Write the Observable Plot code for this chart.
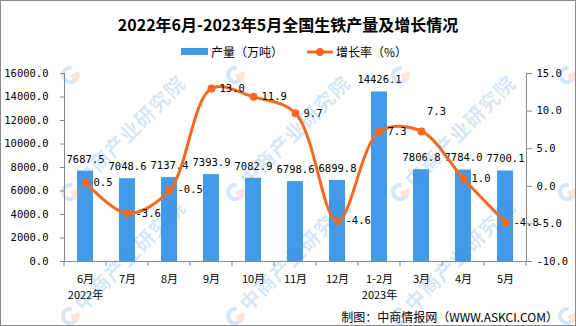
<!DOCTYPE html>
<html><head><meta charset="utf-8">
<script src="https://cdn.jsdelivr.net/npm/d3@7"></script>
<script src="https://cdn.jsdelivr.net/npm/@observablehq/plot@0.6"></script>
<style>
body{margin:0;background:#fff;}
#wrap{position:relative;width:576px;height:326px;overflow:hidden;background:#fff;font-family:"Noto Sans CJK SC",sans-serif;color:#000;}
#chart{position:absolute;left:0;top:0;}
#title{position:absolute;left:0;top:12px;width:576px;text-align:center;font-size:16px;font-weight:bold;line-height:24px;}
.lg{position:absolute;font-size:12px;line-height:14px;top:45px;}
#caption{position:absolute;right:18px;top:308px;font-size:12px;line-height:18px;}
#wm{position:absolute;left:0;top:0;pointer-events:none;}
#border{position:absolute;left:0;top:0;width:574px;height:324px;border:1px solid #8a8a8a;pointer-events:none;}
</style></head><body>
<div id="wrap">
  <div id="chart"></div>
  <div id="title">2022年6月-2023年5月全国生铁产量及增长情况</div>
  <div class="lg" style="left:181px;top:48px;width:27px;height:7px;background:#419bea;"></div>
  <div class="lg" style="left:211px;">产量（万吨）</div>
  <svg class="lg" style="left:305px;top:45px;" width="30" height="14"><line x1="2" y1="7" x2="28" y2="7" stroke="#f8691f" stroke-width="3"/><circle cx="15" cy="7" r="4" fill="#f8691f"/></svg>
  <div class="lg" style="left:336px;">增长率（%）</div>
  <div id="caption">制图：中商情报网（WWW.ASKCI.COM）</div>
  <svg id="wm" width="576" height="326"></svg>
  <div id="border"></div>
</div>
<script>
const months = ["6月","7月","8月","9月","10月","11月","12月","1-2月","3月","4月","5月"];
const output = [7687.5,7048.6,7137.4,7393.9,7082.9,6798.6,6899.8,14426.1,7806.8,7784.0,7700.1];
const growth = [0.5,-3.6,-0.5,13.0,11.9,9.7,-4.6,7.3,7.3,1.0,-4.8];
const yearLabels = ["2022年","","","","","","","2023年","","",""];
const leftTicks = [0,2000,4000,6000,8000,10000,12000,14000,16000];
const rightTicks = [-10,-5,0,5,10,15];

const blue = "#419bea", orange = "#f8691f";
const toLeft = g => (g + 10) * 640;   // map growth [-10,15] onto [0,16000]
const data = months.map((m, i) => ({m, v: output[i], g: growth[i], yr: yearLabels[i]}));
const numFont = "DejaVu Sans Mono";
const cjkFont = "Noto Sans CJK SC";

const plot = Plot.plot({
  width: 576, height: 326,
  marginTop: 73, marginBottom: 65, marginLeft: 64, marginRight: 50,
  style: {background: "transparent", fontFamily: numFont, fontSize: "10.5px", color: "#000"},
  x: {domain: months, paddingInner: 0.62, paddingOuter: 0.31, axis: null},
  y: {domain: [0, 16000], axis: null},
  marks: [
    Plot.barY(data, {x: "m", y: "v", fill: blue}),
    Plot.ruleY([0], {stroke: "#888"}),
    Plot.frame({anchor: "left", stroke: "#888"}),
    Plot.frame({anchor: "right", stroke: "#888"}),
    Plot.axisY(leftTicks, {anchor: "left", label: null, tickSize: 4, tickPadding: 12, stroke: "#888", fill: "#000", tickFormat: d => d.toFixed(1)}),
    Plot.axisY(rightTicks.map(toLeft), {anchor: "right", label: null, tickSize: 5, tickPadding: 5, stroke: "#888", fill: "#000", tickFormat: v => (v / 640 - 10).toFixed(1)}),
    Plot.axisX({label: null, tickSize: 0, tickPadding: 10, lineHeight: 1.45, fontFamily: cjkFont, fontSize: 11, fill: "#000",
      tickFormat: d => yearLabels[months.indexOf(d)] ? d + "\n" + yearLabels[months.indexOf(d)] : d}),
    Plot.text(data, {x: "m", y: "v", text: d => d.v.toFixed(1), dy: -12, fill: "#000"}),
    Plot.line(data, {x: "m", y: d => toLeft(d.g), stroke: orange, strokeWidth: 3, curve: "catmull-rom"}),
    Plot.dot(data, {x: "m", y: d => toLeft(d.g), r: 4, fill: orange}),
    Plot.text(data.filter(d => d.m !== "3月"), {x: "m", y: d => toLeft(d.g), text: d => d.g.toFixed(1), textAnchor: "start", dx: 8, fill: "#000"}),
    Plot.text(data.filter(d => d.m === "3月"), {x: "m", y: d => toLeft(d.g), text: d => d.g.toFixed(1), dx: 15, dy: -20, fill: "#000"})
  ]
});
document.getElementById("chart").appendChild(plot);

// category-boundary tick marks on the x axis, positioned from Plot's own scales
const xs = plot.scale("x"), ys = plot.scale("y");
const step = xs.step ?? (xs.bandwidth / (1 - 0.62));
const gap = (step - xs.bandwidth) / 2;
const y0 = ys.apply(0);
const bounds = months.map(m => xs.apply(m) - gap).concat([xs.apply(months[months.length - 1]) + xs.bandwidth + gap]);
d3.select(plot).append("g").selectAll("line").data(bounds).join("line")
  .attr("x1", d => d).attr("x2", d => d).attr("y1", y0).attr("y2", y0 + 5)
  .attr("stroke", "#888");

// watermark (logo marks tiled; the text only where it fits inside the picture)
const wm = d3.select("#wm").append("g").attr("opacity", 0.22);
const wx = [70, 235, 400, 567], wy = [75, 192, 316];
for (const y of wy) for (const x of wx) {
  const g = wm.append("g");
  g.append("circle").attr("cx", x).attr("cy", y).attr("r", 7).attr("fill", "none")
    .attr("stroke", "#3f8fd6").attr("stroke-width", 4)
    .attr("stroke-dasharray", "32 12").attr("transform", `rotate(20 ${x} ${y})`);
  g.append("path").attr("d", `M${x},${y} L${x + 9},${y - 4} A9,9 0 0 1 ${x + 5},${y + 8} Z`).attr("fill", "#f08060");
  if (y > 150 && x < 450) {
    g.append("text").attr("x", x + 12).attr("y", y + 7).attr("transform", `rotate(-45 ${x} ${y})`)
      .attr("font-family", cjkFont).attr("font-weight", "bold").attr("font-size", 20).attr("letter-spacing", 1)
      .attr("fill", "#3f8fd6").text("中商产业研究院");
  }
}
</script>
</body></html>
